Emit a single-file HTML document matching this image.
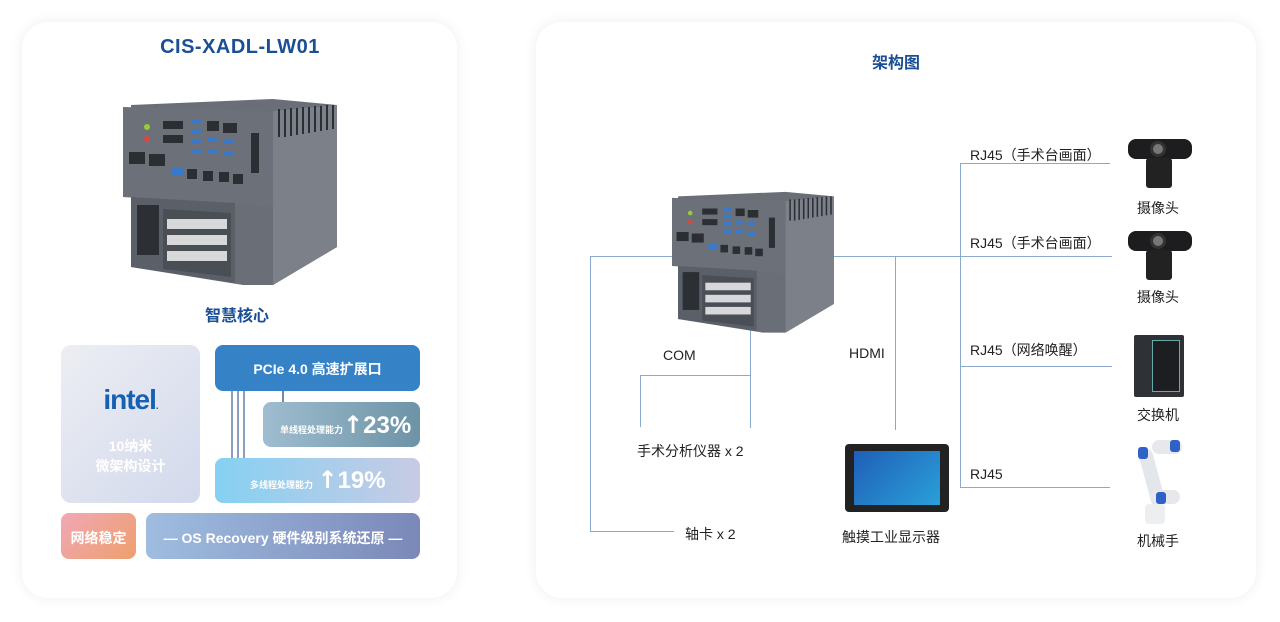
<!DOCTYPE html>
<html><head><meta charset="utf-8"><style>
*{margin:0;padding:0;box-sizing:border-box}
body{width:1280px;height:622px;background:#fff;position:relative;overflow:hidden;font-family:"Liberation Sans","Noto Sans CJK SC",sans-serif}
.card{position:absolute;background:#fff;border-radius:26px;box-shadow:0 0 14px rgba(0,0,0,0.07)}
.a{position:absolute}
.t{position:absolute;white-space:nowrap}
.ln{position:absolute;background:#8aa9cf}
.lbl{position:absolute;font-size:14px;color:#222;white-space:nowrap}
</style></head><body>
<svg width="0" height="0" style="position:absolute"><defs>
<g id="dev">
 <polygon points="8,8 150,2 214,8 214,150 150,188 120,188 8,170" fill="#6a6f77"/>
 <polygon points="150,14 214,8 214,150 150,188" fill="#7b8089"/>
 <g stroke="#2b2e33" stroke-width="2">
  <line x1="156" y1="12" x2="156" y2="40"/><line x1="162" y1="12" x2="162" y2="40"/><line x1="168" y1="11" x2="168" y2="39"/><line x1="174" y1="11" x2="174" y2="38"/><line x1="180" y1="10" x2="180" y2="37"/><line x1="186" y1="10" x2="186" y2="36"/><line x1="192" y1="9" x2="192" y2="35"/><line x1="198" y1="9" x2="198" y2="34"/><line x1="204" y1="8" x2="204" y2="33"/><line x1="210" y1="8" x2="210" y2="32"/>
 </g>
 <polygon points="0,10 150,14 150,110 0,100" fill="#6c7179"/>
 <polygon points="8,100 112,106 112,186 8,170" fill="#5b6068"/>
 <rect x="14" y="108" width="22" height="50" fill="#2c2f34"/>
 <polygon points="40,112 108,116 108,180 40,172" fill="#4a4e55"/>
 <rect x="44" y="122" width="60" height="10" fill="#d6d8da"/><rect x="44" y="138" width="60" height="10" fill="#d6d8da"/><rect x="44" y="154" width="60" height="10" fill="#d6d8da"/>
 <g fill="#3a78c9"><rect x="68" y="22" width="10" height="5"/><rect x="68" y="32" width="10" height="5"/><rect x="68" y="42" width="10" height="5"/><rect x="68" y="52" width="10" height="5"/><rect x="84" y="40" width="10" height="5"/><rect x="84" y="52" width="10" height="5"/><rect x="100" y="42" width="10" height="5"/><rect x="100" y="54" width="10" height="5"/><rect x="48" y="70" width="12" height="8"/></g>
 <g fill="#2b2e33"><rect x="84" y="24" width="12" height="10"/><rect x="100" y="26" width="14" height="10"/><rect x="40" y="24" width="20" height="8"/><rect x="40" y="38" width="20" height="8"/><rect x="6" y="55" width="16" height="12"/><rect x="26" y="57" width="16" height="12"/><rect x="64" y="72" width="10" height="10"/><rect x="80" y="74" width="10" height="10"/><rect x="96" y="75" width="10" height="10"/><rect x="110" y="77" width="10" height="10"/><rect x="128" y="36" width="8" height="40"/></g>
 <circle cx="24" cy="30" r="3" fill="#9c3"/><circle cx="24" cy="42" r="3" fill="#d44"/>
</g></defs></svg>

<div class="card" style="left:22px;top:22px;width:435px;height:576px"></div>
<div class="card" style="left:536px;top:22px;width:720px;height:576px"></div>

<div class="t" style="left:0;width:480px;text-align:center;top:36px;font-size:20px;font-weight:bold;color:#1b4f95;letter-spacing:0.5px">CIS-XADL-LW01</div>
<svg class="a" style="left:123px;top:96px" width="214" height="190" viewBox="0 0 214 188"><use href="#dev"/></svg>
<div class="t" style="left:0;width:474px;text-align:center;top:302px;font-size:16px;font-weight:bold;color:#1b4f95">智慧核心</div>

<div class="a" style="left:61px;top:345px;width:139px;height:158px;border-radius:10px;background:linear-gradient(135deg,#eceef3,#d3d9ec)"></div>
<div class="t" style="left:61px;width:139px;text-align:center;top:384px;font-size:28px;font-weight:bold;color:#1560b0;letter-spacing:-1px">intel<span style="font-size:10px">.</span></div>
<div class="t" style="left:61px;width:139px;text-align:center;top:436px;font-size:14px;font-weight:bold;color:#fff;line-height:20px">10纳米<br>微架构设计</div>

<div class="a" style="left:215px;top:345px;width:205px;height:46px;border-radius:8px;background:#3582c6"></div>
<div class="t" style="left:215px;width:205px;text-align:center;top:359px;font-size:14px;font-weight:bold;color:#fff">PCIe 4.0 高速扩展口</div>
<div class="ln" style="left:231px;top:391px;width:2px;height:67px;background:#8a9fbf"></div>
<div class="ln" style="left:237px;top:391px;width:2px;height:67px;background:#8a9fbf"></div>
<div class="ln" style="left:243px;top:391px;width:2px;height:67px;background:#8a9fbf"></div>
<div class="ln" style="left:282px;top:391px;width:2px;height:12px;background:#6f8aa5"></div>
<div class="a" style="left:263px;top:402px;width:157px;height:45px;border-radius:8px;background:linear-gradient(90deg,#9fbdd0,#6d93a6)"></div>
<div class="t" style="left:280px;top:411px;color:#fff;font-weight:bold"><span style="font-size:9px">单线程处理能力</span><span style="font-size:24px;font-family:'DejaVu Sans',sans-serif">↑</span><span style="font-size:24px">23%</span></div>
<div class="a" style="left:215px;top:458px;width:205px;height:45px;border-radius:8px;background:linear-gradient(90deg,#86d0f2,#c7cbe4)"></div>
<div class="t" style="left:250px;top:466px;color:#fff;font-weight:bold"><span style="font-size:9px">多线程处理能力</span> <span style="font-size:24px;font-family:'DejaVu Sans',sans-serif">↑</span><span style="font-size:24px">19%</span></div>

<div class="a" style="left:61px;top:513px;width:75px;height:46px;border-radius:8px;background:linear-gradient(135deg,#f0a8b6,#ee9f6c)"></div>
<div class="t" style="left:61px;width:75px;text-align:center;top:528px;font-size:14px;font-weight:bold;color:#fff">网络稳定</div>
<div class="a" style="left:146px;top:513px;width:274px;height:46px;border-radius:8px;background:linear-gradient(90deg,#9fbde0,#7b88b8)"></div>
<div class="t" style="left:146px;width:274px;text-align:center;top:528px;font-size:14px;font-weight:bold;color:#fff">— OS Recovery 硬件级别系统还原 —</div>

<div class="t" style="left:536px;width:720px;text-align:center;top:49px;font-size:16px;font-weight:bold;color:#1b4f95">架构图</div>

<div class="ln" style="left:590px;top:256px;width:1px;height:276px"></div>
<div class="ln" style="left:590px;top:256px;width:92px;height:1px"></div>
<div class="ln" style="left:590px;top:531px;width:84px;height:1px"></div>
<div class="ln" style="left:830px;top:256px;width:282px;height:1px"></div>
<div class="ln" style="left:895px;top:256px;width:1px;height:174px"></div>
<div class="ln" style="left:750px;top:308px;width:1px;height:120px"></div>
<div class="ln" style="left:640px;top:375px;width:111px;height:1px"></div>
<div class="ln" style="left:640px;top:375px;width:1px;height:52px"></div>
<div class="ln" style="left:960px;top:163px;width:1px;height:325px"></div>
<div class="ln" style="left:960px;top:163px;width:150px;height:1px"></div>
<div class="ln" style="left:960px;top:366px;width:152px;height:1px"></div>
<div class="ln" style="left:960px;top:487px;width:150px;height:1px"></div>

<svg class="a" style="left:672px;top:190px" width="162" height="143" viewBox="0 0 214 188"><use href="#dev"/></svg>

<div class="lbl" style="left:663px;top:347px">COM</div>
<div class="lbl" style="left:849px;top:345px">HDMI</div>
<div class="lbl" style="left:637px;top:441px">手术分析仪器 x 2</div>
<div class="lbl" style="left:685px;top:524px">轴卡 x 2</div>
<div class="lbl" style="left:842px;top:527px">触摸工业显示器</div>
<div class="lbl" style="left:970px;top:145px">RJ45（手术台画面）</div>
<div class="lbl" style="left:970px;top:233px">RJ45（手术台画面）</div>
<div class="lbl" style="left:970px;top:340px">RJ45（网络唤醒）</div>
<div class="lbl" style="left:970px;top:466px">RJ45</div>

<div class="a" style="left:845px;top:444px;width:104px;height:68px;border-radius:4px;background:#222"></div>
<div class="a" style="left:854px;top:451px;width:86px;height:54px;background:linear-gradient(135deg,#1f5fb8,#2aa0d8)"></div>

<div class="a" style="left:1128px;top:139px;width:64px;height:20px;border-radius:8px;background:#1d1d1f"></div>
<div class="a" style="left:1150px;top:141px;width:16px;height:16px;border-radius:50%;background:#777;border:3px solid #333"></div>
<div class="a" style="left:1146px;top:158px;width:26px;height:30px;border-radius:3px;background:#222"></div>
<div class="a" style="left:1128px;top:231px;width:64px;height:20px;border-radius:8px;background:#1d1d1f"></div>
<div class="a" style="left:1150px;top:233px;width:16px;height:16px;border-radius:50%;background:#777;border:3px solid #333"></div>
<div class="a" style="left:1146px;top:250px;width:26px;height:30px;border-radius:3px;background:#222"></div>
<div class="lbl" style="left:1137px;top:198px">摄像头</div>
<div class="lbl" style="left:1137px;top:287px">摄像头</div>
<div class="a" style="left:1134px;top:335px;width:50px;height:62px;background:#2e3136;border-radius:2px"></div>
<div class="a" style="left:1152px;top:340px;width:28px;height:52px;border:1px solid #6aa;background:#1c1e22"></div>
<div class="lbl" style="left:1137px;top:405px">交换机</div>
<div class="a" style="left:1145px;top:448px;width:14px;height:60px;background:#e3e6ea;border-radius:7px;transform:rotate(-15deg)"></div>
<div class="a" style="left:1152px;top:440px;width:30px;height:14px;background:#e6e8eb;border-radius:7px"></div>
<div class="a" style="left:1138px;top:447px;width:10px;height:12px;background:#2f62c6;border-radius:3px"></div>
<div class="a" style="left:1170px;top:440px;width:10px;height:12px;background:#2f62c6;border-radius:3px"></div>
<div class="a" style="left:1150px;top:490px;width:30px;height:14px;background:#e6e8eb;border-radius:7px"></div>
<div class="a" style="left:1156px;top:492px;width:10px;height:12px;background:#2f62c6;border-radius:3px"></div>
<div class="a" style="left:1145px;top:504px;width:20px;height:20px;background:#eceef0;border-radius:4px"></div>
<div class="lbl" style="left:1137px;top:531px">机械手</div>
</body></html>
